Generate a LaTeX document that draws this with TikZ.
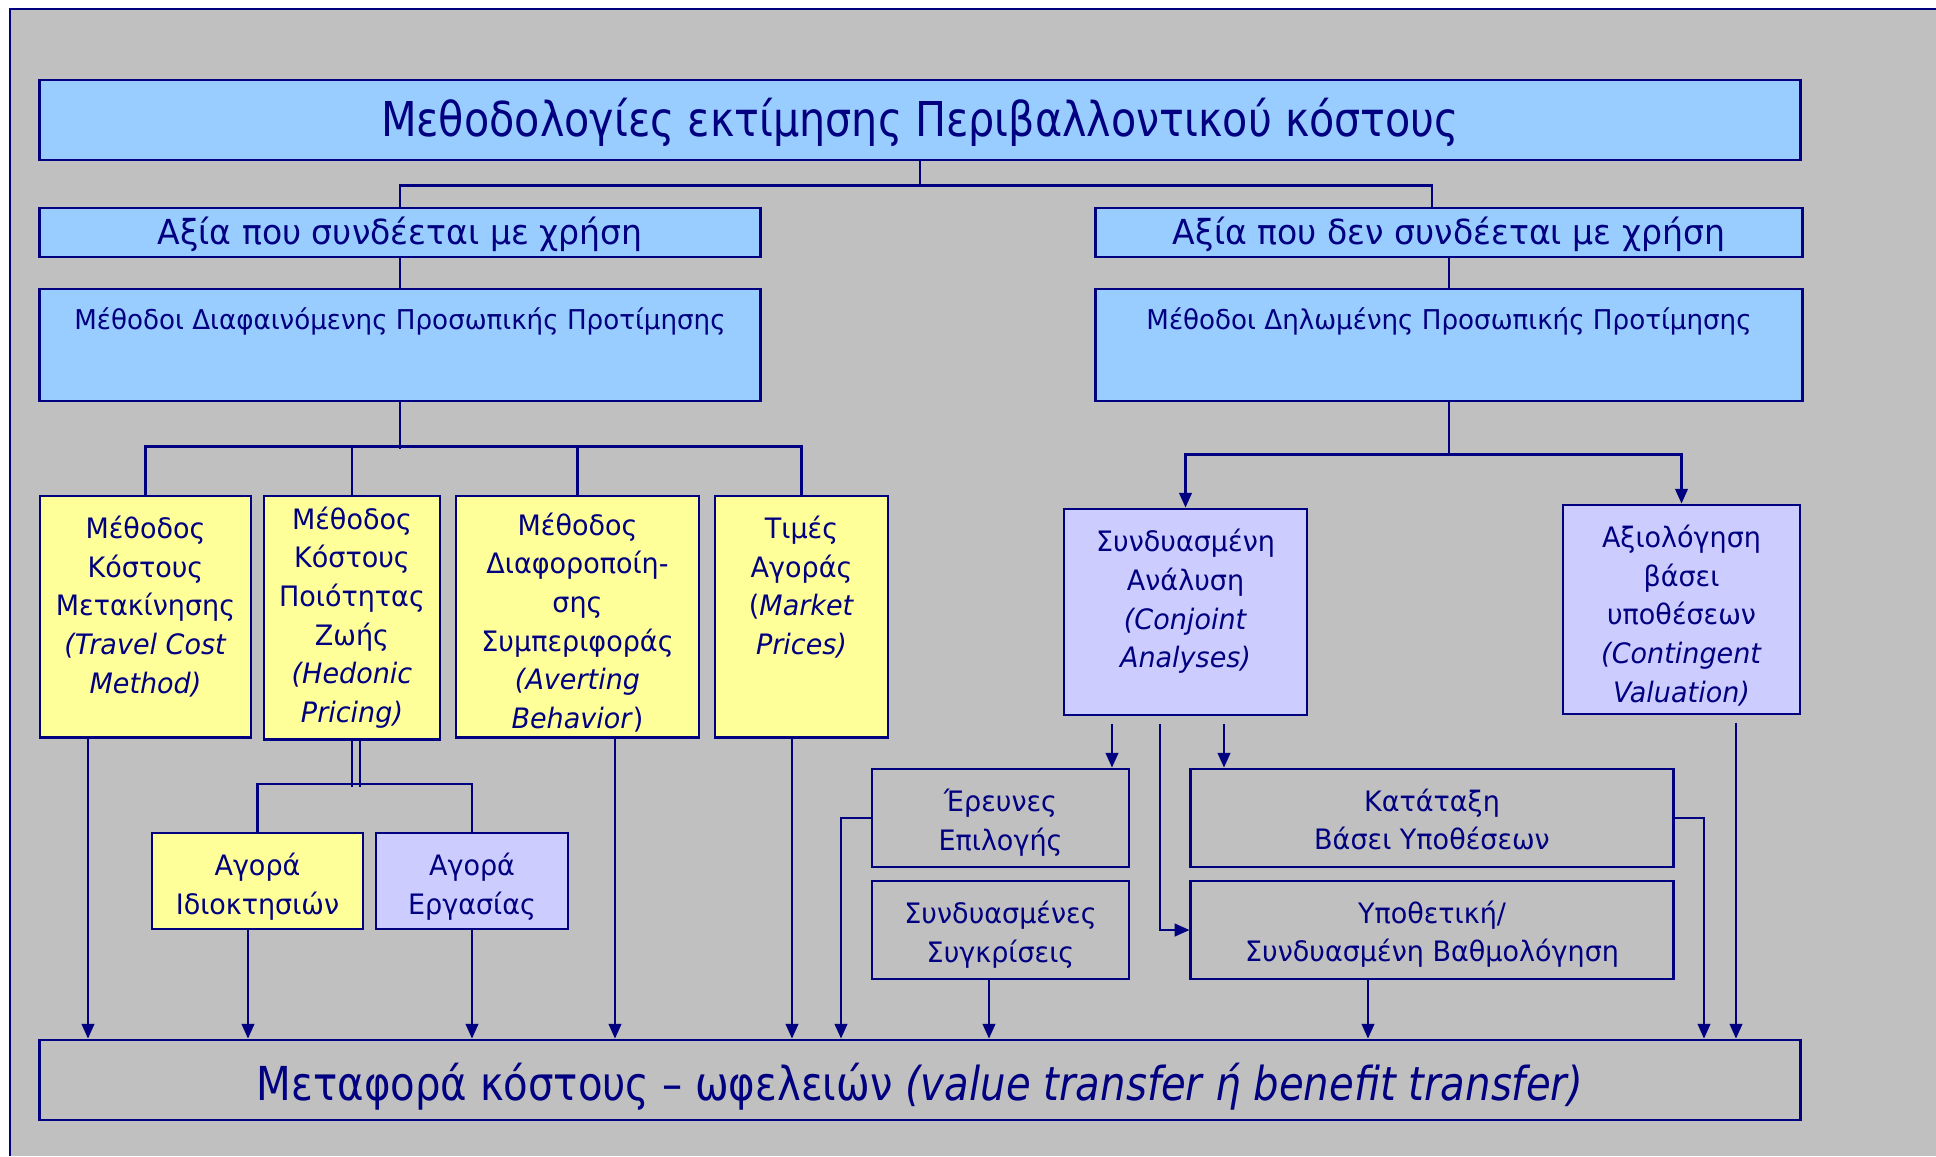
\documentclass[tikz,border=0pt]{standalone}
\usepackage{fontspec}
\setmainfont[FakeStretch=0.86]{DejaVu Sans}
\newfontfamily\boxfont[FakeStretch=0.96]{DejaVu Sans}
\usetikzlibrary{positioning,arrows.meta}
\definecolor{navyline}{HTML}{000080}
\definecolor{bgray}{HTML}{C0C0C0}
\definecolor{skyfill}{HTML}{99CCFF}
\definecolor{lemon}{HTML}{FFFF99}
\definecolor{lilac}{HTML}{CCCCFF}
\tikzset{>={Triangle[length=4.2pt,width=3.6pt]}}
\tikzset{
  box/.style={draw=navyline,line width=0.8pt,inner sep=0pt,text=navyline,align=center},
  bluebox/.style={box,fill=skyfill},
  ylwbox/.style={box,fill=lemon},
  lilbox/.style={box,fill=lilac},
  txt/.style={text=navyline,align=center,inner sep=0pt},
  link/.style={draw=navyline,line width=0.6pt},
  small/.style={font=\boxfont\fontsize{8}{11}\selectfont},
}

\begin{document}
\begin{tikzpicture}[x=0.01cm,y=-0.01cm]
\useasboundingbox (0,0) rectangle (1936,1156);
\fill[bgray] (10,9) rectangle (1936,1156);
\draw[navyline,line width=0.8pt] (10,1156) -- (10,9) -- (1936,9);

% top levels
\node[bluebox,minimum width=17.6cm,minimum height=0.8cm] (ttl) at (920,120) {};
\node[txt,font=\fontsize{13.65}{16}\selectfont] (ttlt) at ([yshift=-0.02cm]ttl.center) {Μεθοδολογίες εκτίμησης Περιβαλλοντικού κόστους};
\node[bluebox,minimum width=7.2cm,minimum height=0.49cm] (use) at (400,232.5) {};
\node[txt,font=\boxfont\fontsize{9.8}{12}\selectfont] (uset) at ([yshift=-0.02cm]use.center) {Αξία που συνδέεται με χρήση};
\node[bluebox,minimum width=7.06cm,minimum height=0.49cm] (nuse) at (1449,232.5) {};
\node[txt,font=\boxfont\fontsize{9.8}{12}\selectfont] (nuset) at ([yshift=-0.02cm]nuse.center) {Αξία που δεν συνδέεται με χρήση};
\node[bluebox,minimum width=7.2cm,minimum height=1.12cm] (rev) at (400,345) {};
\node[txt,font=\boxfont\fontsize{7.75}{10}\selectfont] (revt) at ([yshift=0.235cm]rev.center) {Μέθοδοι Διαφαινόμενης Προσωπικής Προτίμησης};
\node[bluebox,minimum width=7.06cm,minimum height=1.12cm] (stt) at (1449,345) {};
\node[txt,font=\boxfont\fontsize{7.75}{10}\selectfont] (sttt) at ([yshift=0.235cm]stt.center) {Μέθοδοι Δηλωμένης Προσωπικής Προτίμησης};

% revealed preference
\node[ylwbox,minimum width=2.11cm,minimum height=2.41cm] (trv) at (145.5,616.5) {};
\node[txt,small] (trvt) at ([yshift=0.1cm]trv.center) {Μέθοδος\\Κόστους\\Μετακίνησης\\\textit{(Travel Cost}\\\textit{Method)}};
\node[ylwbox,minimum width=1.76cm,minimum height=2.43cm] (hed) at (352,617.5) {};
\node[txt,small] (hedt) at (hed.center) {Μέθοδος\\Κόστους\\Ποιότητας\\Ζωής\\\textit{(Hedonic}\\\textit{Pricing)}};
\node[ylwbox,minimum width=2.43cm,minimum height=2.41cm] (avr) at (577.5,616.5) {};
\node[txt,small] (avrt) at ([yshift=-0.06cm]avr.center) {Μέθοδος\\Διαφοροποίη-\\σης\\Συμπεριφοράς\\\textit{(Averting}\\\textit{Behavior})};
\node[ylwbox,minimum width=1.73cm,minimum height=2.41cm] (mkt) at (801.5,616.5) {};
\node[txt,small] (mktt) at ([yshift=0.295cm]mkt.center) {Τιμές\\Αγοράς\\(\textit{Market}\\\textit{Prices)}};
\node[ylwbox,minimum width=2.11cm,minimum height=0.96cm] (prop) at (257.5,881) {};
\node[txt,small] (propt) at ([yshift=-0.055cm]prop.center) {Αγορά\\Ιδιοκτησιών};
\node[lilbox,minimum width=1.92cm,minimum height=0.96cm] (lab) at (472,881) {};
\node[txt,small] (labt) at ([yshift=-0.055cm]lab.center) {Αγορά\\Εργασίας};

% stated preference
\node[lilbox,minimum width=2.43cm,minimum height=2.06cm] (cja) at (1185.5,612) {};
\node[txt,small] (cjat) at ([yshift=0.105cm]cja.center) {Συνδυασμένη\\Ανάλυση\\\textit{(Conjoint}\\\textit{Analyses)}};
\node[lilbox,minimum width=2.37cm,minimum height=2.09cm] (cva) at (1681.5,609.5) {};
\node[txt,small] (cvat) at ([yshift=-0.06cm]cva.center) {Αξιολόγηση\\βάσει\\υποθέσεων\\\textit{(Contingent}\\\textit{Valuation)}};
\node[box,minimum width=2.57cm,minimum height=0.98cm] (ere) at (1000.5,818) {};
\node[txt,small] (eret) at ([yshift=-0.05cm]ere.center) {Έρευνες\\Επιλογής};
\node[box,minimum width=2.57cm,minimum height=0.98cm] (cmp) at (1000.5,930) {};
\node[txt,small] (cmpt) at ([yshift=-0.05cm]cmp.center) {Συνδυασμένες\\Συγκρίσεις};
\node[box,minimum width=4.82cm,minimum height=0.98cm] (rnk) at (1432,818) {};
\node[txt,small] (rnkt) at ([yshift=-0.015cm]rnk.center) {Κατάταξη\\Βάσει Υποθέσεων};
\node[box,minimum width=4.82cm,minimum height=0.98cm] (hyp) at (1432,930) {};
\node[txt,small] (hypt) at ([yshift=-0.04cm]hyp.center) {Υποθετική/\\Συνδυασμένη Βαθμολόγηση};

% value transfer
\node[box,minimum width=17.6cm,minimum height=0.8cm] (tr) at (920,1080) {};
\node[txt,font=\fontsize{13.3}{16}\selectfont] (trt) at ([yshift=-0.07cm]tr.center) {Μεταφορά κόστους – ωφελειών \textit{(value transfer ή benefit transfer)}};

% tree lines
\draw[link] (ttl.south) -- ++(0,24) -| (use.north);
\draw[link] (ttl.south) -- ++(0,24) -| ([xshift=-0.17cm]nuse.north);
\draw[link] (use.south) -- (rev.north);
\draw[link] (nuse.south) -- (stt.north);
\draw[link] (rev.south) -- ++(0,47);
\draw[link] (trv.north) -- ++(0,-48) -| (mkt.north);
\draw[link] (hed.north) -- ++(0,-48);
\draw[link] (avr.north) -- ++(0,-48);
\draw[link] (hed.south) -- ++(0,46);
\draw[link] ([xshift=0.08cm]hed.south) -- ++(0,46);
\draw[link] (prop.north) -- ++(0,-48) -| (lab.north);
\draw[link,->] (stt.south) -- ++(0,52) -| (cja.north);
\draw[link,->] (stt.south) -- ++(0,52) -| (cva.north);
\draw[link,->,shorten <=2pt] (1112,0 |- cja.south) -- (1112,0 |- ere.north);
\draw[link,->,shorten <=2pt] (1224,0 |- cja.south) -- (1224,0 |- rnk.north);
\draw[link,->,shorten <=2pt] (1160,0 |- cja.south) |- (hyp.west);

% arrows into the transfer box
\draw[link,->] (88,0 |- trv.south) -- (88,0 |- tr.north);
\draw[link,->] (248,0 |- prop.south) -- (248,0 |- tr.north);
\draw[link,->] (lab.south) -- (lab.south |- tr.north);
\draw[link,->] (615,0 |- avr.south) -- (615,0 |- tr.north);
\draw[link,->] (792,0 |- mkt.south) -- (792,0 |- tr.north);
\draw[link,->] (ere.west) -| (841,0 |- tr.north);
\draw[link,->] (989,0 |- cmp.south) -- (989,0 |- tr.north);
\draw[link,->] (1368,0 |- hyp.south) -- (1368,0 |- tr.north);
\draw[link,->] (rnk.east) -| (1704,0 |- tr.north);
\draw[link,->,shorten <=2pt] (1736,0 |- cva.south) -- (1736,0 |- tr.north);
\end{tikzpicture}
\end{document}
